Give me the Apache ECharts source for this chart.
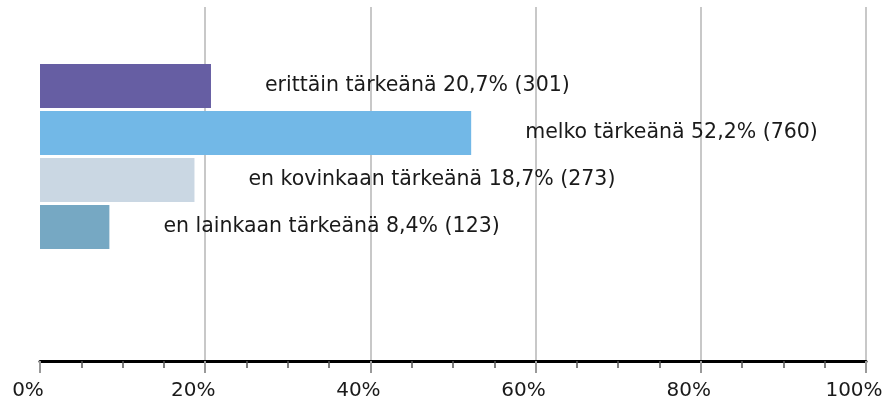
<!DOCTYPE html>
<html>
<head>
<meta charset="utf-8">
<title>tärkeys</title>
<script src="https://cdn.jsdelivr.net/npm/echarts@6/dist/echarts.min.js"></script>
<style>
    html, body { margin: 0; padding: 0; background: #fff; }
    #echartsMain { width: 886px; height: 404px; }
</style>
</head>
<body>
<div id="echartsMain"></div>
<script>
// data
var categories = ['erittäin tärkeänä', 'melko tärkeänä', 'en kovinkaan tärkeänä', 'en lainkaan tärkeänä'];
var percents = [20.7, 52.2, 18.7, 8.4];
var counts = [301, 760, 273, 123];
var barColors = ['#665ea3', '#72b8e7', '#cad7e3', '#76a8c3'];
var xTicks = [0, 20, 40, 60, 80, 100];

var font = 'DejaVu Sans';

draw()

function draw() {
    var myChart = echarts.init(document.getElementById('echartsMain'));

    //bar data, each bar gets own colour
    var barData = percents.map(function (v, i) {
        return { value: v, itemStyle: { color: barColors[i] } }
    })

    //first gridline (0%) is not drawn
    var lineColors = xTicks.map(function (t) {
        return t === 0 ? 'rgba(0,0,0,0)' : '#c8c8c8'
    })

    var option = {
        animation: false,
        grid: [
            //axis + gridlines
            { left: 40, right: 20, top: 7, bottom: 43 },
            //bars
            { left: 40, right: 20, top: 62.5, height: 188 }
        ],
        xAxis: [
            {
                gridIndex: 0,
                type: 'value',
                min: xTicks[0],
                max: xTicks[xTicks.length - 1],
                interval: 20,
                axisLine: { show: true, onZero: false, lineStyle: { color: '#000', width: 3 } },
                axisTick: { show: true, inside: false, length: 12, lineStyle: { color: '#999', width: 2 } },
                minorTick: { show: true, splitNumber: 4, length: 7, lineStyle: { color: '#555', width: 1.5 } },
                axisLabel: {
                    formatter: '{value}%',
                    color: '#1a1a1a',
                    fontSize: 20,
                    fontFamily: font,
                    margin: 20,
                    padding: [0, 24, 0, 0]
                },
                splitLine: { show: true, lineStyle: { color: lineColors, width: 2 } }
            },
            {
                gridIndex: 1,
                type: 'value',
                min: 0,
                max: 100,
                show: false
            }
        ],
        yAxis: [
            { gridIndex: 0, type: 'value', show: false },
            {
                gridIndex: 1,
                type: 'category',
                data: categories,
                inverse: true,
                show: false
            }
        ],
        series: [
            {
                type: 'bar',
                xAxisIndex: 1,
                yAxisIndex: 1,
                barWidth: 44,
                data: barData,
                label: {
                    show: true,
                    position: 'right',
                    distance: 54,
                    color: '#1a1a1a',
                    fontSize: 20.5,
                    fontFamily: font,
                    formatter: function (p) {
                        var i = p.dataIndex
                        return categories[i] + ' ' + percents[i].toFixed(1).replace('.', ',') + '% (' + counts[i] + ')'
                    }
                }
            }
        ]
    };
    myChart.setOption(option);
}
</script>
</body>
</html>
